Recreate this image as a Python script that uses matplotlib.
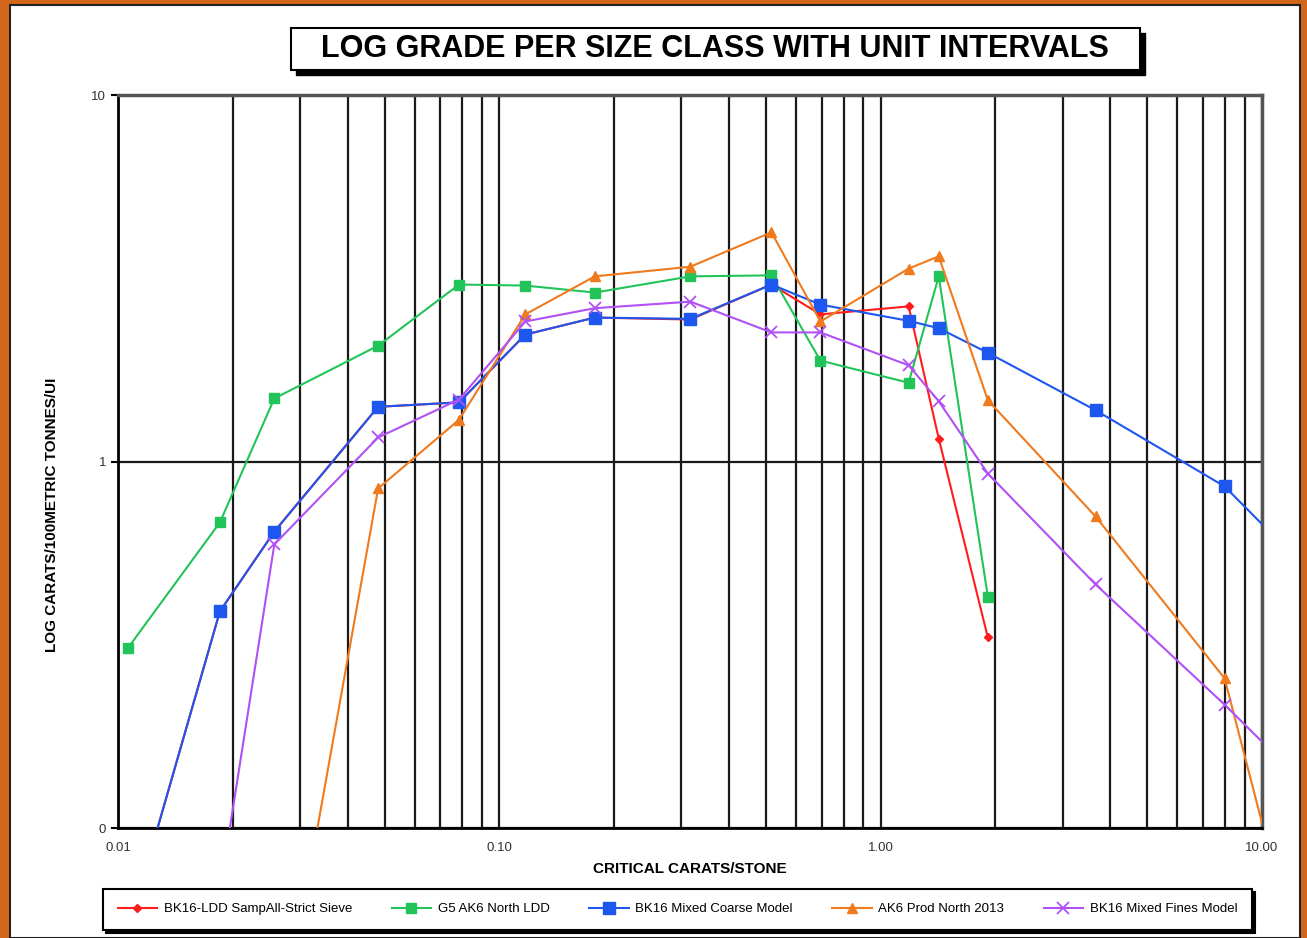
import numpy as np
import matplotlib
matplotlib.use('Agg')
import matplotlib.pyplot as plt
from matplotlib.patches import Rectangle
from matplotlib.ticker import NullLocator, FixedLocator

plt.rcParams['font.family'] = ['Liberation Sans', 'DejaVu Sans']

nan = np.nan

# critical carats/stone (size class boundaries)
x_size = [0.0106, 0.0185, 0.0257, 0.0481, 0.0784, 0.117, 0.178, 0.317, 0.517,
          0.695, 1.184, 1.42, 1.91, 3.66, 7.98, 16.0]

# carats / 100 metric tonnes / unit interval
bk16_ldd = [0.052, 0.390, 0.644, 1.41, 1.45, 2.22, 2.47, 2.44, 3.04, 2.52, 2.65,
            1.155, 0.331, nan, nan, nan]
g5_ak6 = [0.309, 0.682, 1.486, 2.07, 3.04, 3.02, 2.89, 3.20, 3.22, 1.885, 1.64,
          3.20, 0.428, nan, nan, nan]
bk16_coarse = [0.052, 0.390, 0.644, 1.41, 1.45, 2.22, 2.47, 2.45, 3.04, 2.68, 2.42,
               2.31, 1.98, 1.38, 0.855, 0.412]
ak6_prod = [nan, nan, 0.022, 0.844, 1.30, 2.52, 3.20, 3.40, 4.22, 2.41, 3.36,
            3.63, 1.47, 0.708, 0.256, 0.0156]
bk16_fines = [nan, 0.067, 0.594, 1.163, 1.476, 2.41, 2.62, 2.73, 2.25, 2.25, 1.83,
              1.46, 0.927, 0.462, 0.217, 0.106]

series_names = ['BK16-LDD SampAll-Strict Sieve', 'G5 AK6 North LDD',
                'BK16 Mixed Coarse Model', 'AK6 Prod North 2013', 'BK16 Mixed Fines Model']

x_ticks = [0.01, 0.1, 1, 10]
x_tick_labels = ['0.01', '0.10', '1.00', '10.00']
y_ticks = [0.1, 1, 10]
y_tick_labels = ['0', '1', '10']

W, H = 1307, 938
fig = plt.figure(figsize=(W / 100, H / 100), dpi=100)
fig.patch.set_facecolor('#D4661C')

# white panel inside the orange frame
fig.patches.append(Rectangle((10 / W, 0), 1290 / W, 933 / H, transform=fig.transFigure,
                             facecolor='white', edgecolor='#222222', lw=1.5, zorder=-10))

ax = fig.add_axes([118 / W, (H - 828) / H, 1144 / W, 733 / H])
ax.set_zorder(2)
ax.set_xscale('log')
ax.set_yscale('log')
ax.set_xlim(0.01, 10)
ax.set_ylim(0.1, 10)

styles = [
    dict(color='#FF1C1C', marker='D', ms=4.5),
    dict(color='#22C45A', marker='s', ms=7.5),
    dict(color='#1E56F0', marker='s', ms=8.5),
    dict(color='#F07A1E', marker='^', ms=7),
    dict(color='#B050F5', marker='x', ms=8, mew=1.3),
]
data = [bk16_ldd, g5_ak6, bk16_coarse, ak6_prod, bk16_fines]
for vals, name, st in zip(data, series_names, styles):
    ax.plot(x_size, vals, lw=1.5, label=name, zorder=3, **st)

ax.xaxis.set_major_locator(FixedLocator(x_ticks))
ax.set_xticklabels(x_tick_labels)
ax.yaxis.set_major_locator(FixedLocator(y_ticks))
ax.set_yticklabels(y_tick_labels)
ax.yaxis.set_minor_locator(NullLocator())
ax.grid(which='both', axis='x', color='#1a1a1a', lw=1.6)
ax.grid(which='major', axis='y', color='#1a1a1a', lw=1.6)
ax.tick_params(axis='x', which='both', length=0, labelsize=9.5, colors='#333333', pad=10)
ax.tick_params(axis='y', which='major', length=5, width=1.5, labelsize=9.5, colors='#333333')
ax.tick_params(axis='y', colors='black', labelcolor='#333333')
for s in ['left', 'bottom']:
    ax.spines[s].set_linewidth(2)
for s in ['top', 'right']:
    ax.spines[s].set_color('#555555')
    ax.spines[s].set_linewidth(2.5)

ax.set_xlabel('CRITICAL CARATS/STONE', fontsize=11, fontweight='bold', labelpad=6)
ax.set_ylabel('LOG CARATS/100METRIC TONNES/UI', fontsize=11, fontweight='bold')
ax.yaxis.set_label_coords(-0.052, 0.427)

# title box with shadow
fig.patches.append(Rectangle((296 / W, (H - 75) / H), 849 / W, 42 / H, transform=fig.transFigure,
                             facecolor='black', edgecolor='black', zorder=1))
fig.patches.append(Rectangle((291 / W, (H - 70) / H), 849 / W, 42 / H, transform=fig.transFigure,
                             facecolor='white', edgecolor='black', lw=1.5, zorder=2))
fig.text(715 / W, (H - 49) / H, 'LOG GRADE PER SIZE CLASS WITH UNIT INTERVALS',
         ha='center', va='center', fontsize=22, fontweight='bold', zorder=3)

leg = fig.legend(loc='lower left', bbox_to_anchor=(103 / W, (H - 930) / H, 1149 / W, 50 / H),
                 mode='expand', ncol=5, fontsize=9.5, frameon=True, fancybox=False,
                 shadow={'color': 'black', 'alpha': 1}, borderaxespad=0, handlelength=3,
                 handletextpad=0.5, borderpad=1.1)
leg.get_frame().set_edgecolor('black')
leg.get_frame().set_linewidth(1.5)

fig.savefig('out.png', dpi=100, facecolor=fig.get_facecolor())
